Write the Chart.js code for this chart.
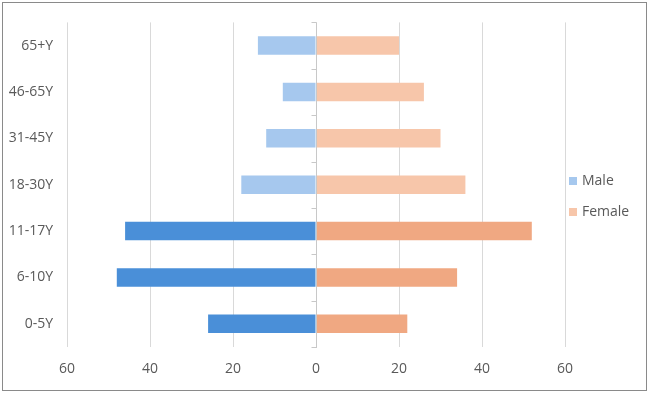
<!DOCTYPE html>
<html>
<head>
<meta charset="utf-8">
<script src="https://cdn.jsdelivr.net/npm/chart.js@4.4.1/dist/chart.umd.min.js"></script>
<style>
html,body{margin:0;padding:0;background:#fff;}
#wrap{position:relative;width:649px;height:394px;}
#frame{position:absolute;left:2px;top:2px;width:643px;height:387px;border:1px solid #8a8a8a;pointer-events:none;}
canvas{display:block;}
</style>
</head>
<body>
<div id="wrap"><canvas id="c" width="649" height="394"></canvas><div id="frame"></div></div>
<script>
const categories = ['65+Y', '46-65Y', '31-45Y', '18-30Y', '11-17Y', '6-10Y', '0-5Y'];
const maleValues = [-14, -8, -12, -18, -46, -48, -26];
const femaleValues = [20, 26, 30, 36, 52, 34, 22];
const xTicks = [-60, -40, -20, 0, 20, 40, 60];
const seriesNames = ['Male', 'Female'];

const maleColors = ['#a6c8ee', '#a6c8ee', '#a6c8ee', '#a6c8ee', '#4a8fd8', '#4a8fd8', '#4a8fd8'];
const femaleColors = ['#f7c6aa', '#f7c6aa', '#f7c6aa', '#f7c6aa', '#f0a882', '#f0a882', '#f0a882'];
const legendColors = ['#a6c8ee', '#f7c6aa'];
const FONT = '"Open Sans", sans-serif';
const TEXT = '#595959';

const extras = {
  id: 'extras',
  afterDatasetsDraw(chart) {
    const ctx = chart.ctx;
    const x = chart.scales.x, y = chart.scales.y;
    const x0 = Math.round(x.getPixelForValue(0)) + 0.5;
    const n = categories.length;
    const band = (y.bottom - y.top) / n;
    ctx.save();
    ctx.strokeStyle = '#c8c8c8';
    ctx.lineWidth = 1;
    ctx.beginPath();
    ctx.moveTo(x0, y.top);
    ctx.lineTo(x0, y.bottom + 1);
    for (let k = 0; k <= n; k++) {
      const yy = Math.round(y.top + k * band) + 0.5;
      ctx.moveTo(x0 - 5, yy);
      ctx.lineTo(x0, yy);
    }
    ctx.stroke();
    ctx.restore();
  },
  afterDraw(chart) {
    const ctx = chart.ctx;
    ctx.save();
    ctx.font = '14px ' + FONT;
    ctx.textBaseline = 'middle';
    ctx.fillStyle = TEXT;
    const lx = 569, ly = [181, 212];
    chart.data.datasets.forEach((ds, i) => {
      ctx.fillStyle = legendColors[i];
      ctx.fillRect(lx, ly[i] - 4, 8, 8);
      ctx.fillStyle = TEXT;
      ctx.fillText(ds.label, lx + 13, ly[i]);
    });
    ctx.restore();
  }
};

new Chart(document.getElementById('c'), {
  type: 'bar',
  data: {
    labels: categories,
    datasets: [
      { label: seriesNames[0], data: maleValues, backgroundColor: maleColors, barPercentage: 0.5, categoryPercentage: 0.8 },
      { label: seriesNames[1], data: femaleValues, backgroundColor: femaleColors, barPercentage: 0.5, categoryPercentage: 0.8 }
    ]
  },
  options: {
    indexAxis: 'y',
    responsive: false,
    animation: false,
    layout: { padding: { top: 21, right: 84, bottom: 0, left: 0 } },
    plugins: { legend: { display: false }, tooltip: { enabled: false } },
    scales: {
      x: {
        stacked: true,
        min: -60, max: 60,
        afterBuildTicks(scale) { scale.ticks = xTicks.map(v => ({ value: v })); },
        afterFit(scale) { scale.height = 47; },
        grid: { color: ctx => ctx.tick && ctx.tick.value === 0 ? 'rgba(0,0,0,0)' : '#d9d9d9', drawTicks: false },
        border: { display: false },
        ticks: { color: TEXT, font: { family: FONT, size: 14 }, padding: 14, callback: v => String(Math.abs(v)) }
      },
      y: {
        stacked: true,
        afterFit(scale) { scale.width = 67; },
        grid: { display: false, drawTicks: false },
        border: { display: false },
        ticks: { color: TEXT, font: { family: FONT, size: 14 }, padding: 14 }
      }
    }
  },
  plugins: [extras]
});
</script>
</body>
</html>
